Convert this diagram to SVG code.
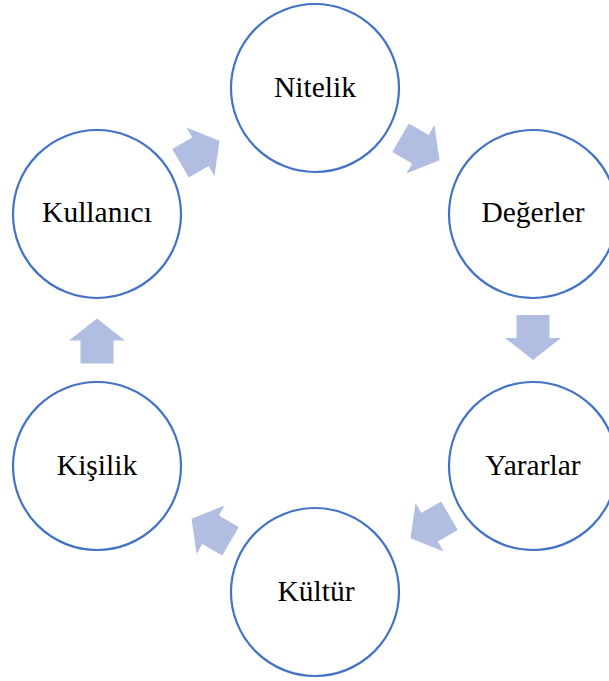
<svg xmlns="http://www.w3.org/2000/svg" width="609" height="681" viewBox="0 0 609 681">
<defs>
<style>
.c{fill:#fff;stroke:#4472C4;stroke-width:2.2}
.t{font-family:"Liberation Serif","Times New Roman",serif;font-size:29.5px;fill:#000;text-anchor:middle}
.a{fill:#B1BEE1}
</style>
<polygon id="arr" points="-16.5,-22.5 16.5,-22.5 16.5,0.5 28,0.5 0,22.5 -28,0.5 -16.5,0.5"/>
</defs>
<g id="connectors" class="a">
<use href="#arr" transform="translate(420,149) rotate(-60)"/>
<use href="#arr" transform="translate(533,337.5)"/>
<use href="#arr" transform="translate(430,527) rotate(60)"/>
<use href="#arr" transform="translate(211,530) rotate(120)"/>
<use href="#arr" transform="translate(97,341) rotate(180)"/>
<use href="#arr" transform="translate(200,152) rotate(-120)"/>
</g>
<g id="nitelik"><circle class="c" cx="315" cy="88" r="84"/><text class="t" x="315" y="97">Nitelik</text></g>
<g id="degerler"><circle class="c" cx="533" cy="214" r="84"/><text class="t" x="533" y="222">Değerler</text></g>
<g id="yararlar"><circle class="c" cx="533" cy="466" r="84"/><text class="t" x="533" y="475">Yararlar</text></g>
<g id="kultur"><circle class="c" cx="315" cy="592" r="84"/><text class="t" x="316" y="601">Kültür</text></g>
<g id="kisilik"><circle class="c" cx="97" cy="466" r="84"/><text class="t" x="97" y="475">Kişilik</text></g>
<g id="kullanici"><circle class="c" cx="97" cy="214" r="84"/><text class="t" x="97" y="222">Kullanıcı</text></g>
</svg>
